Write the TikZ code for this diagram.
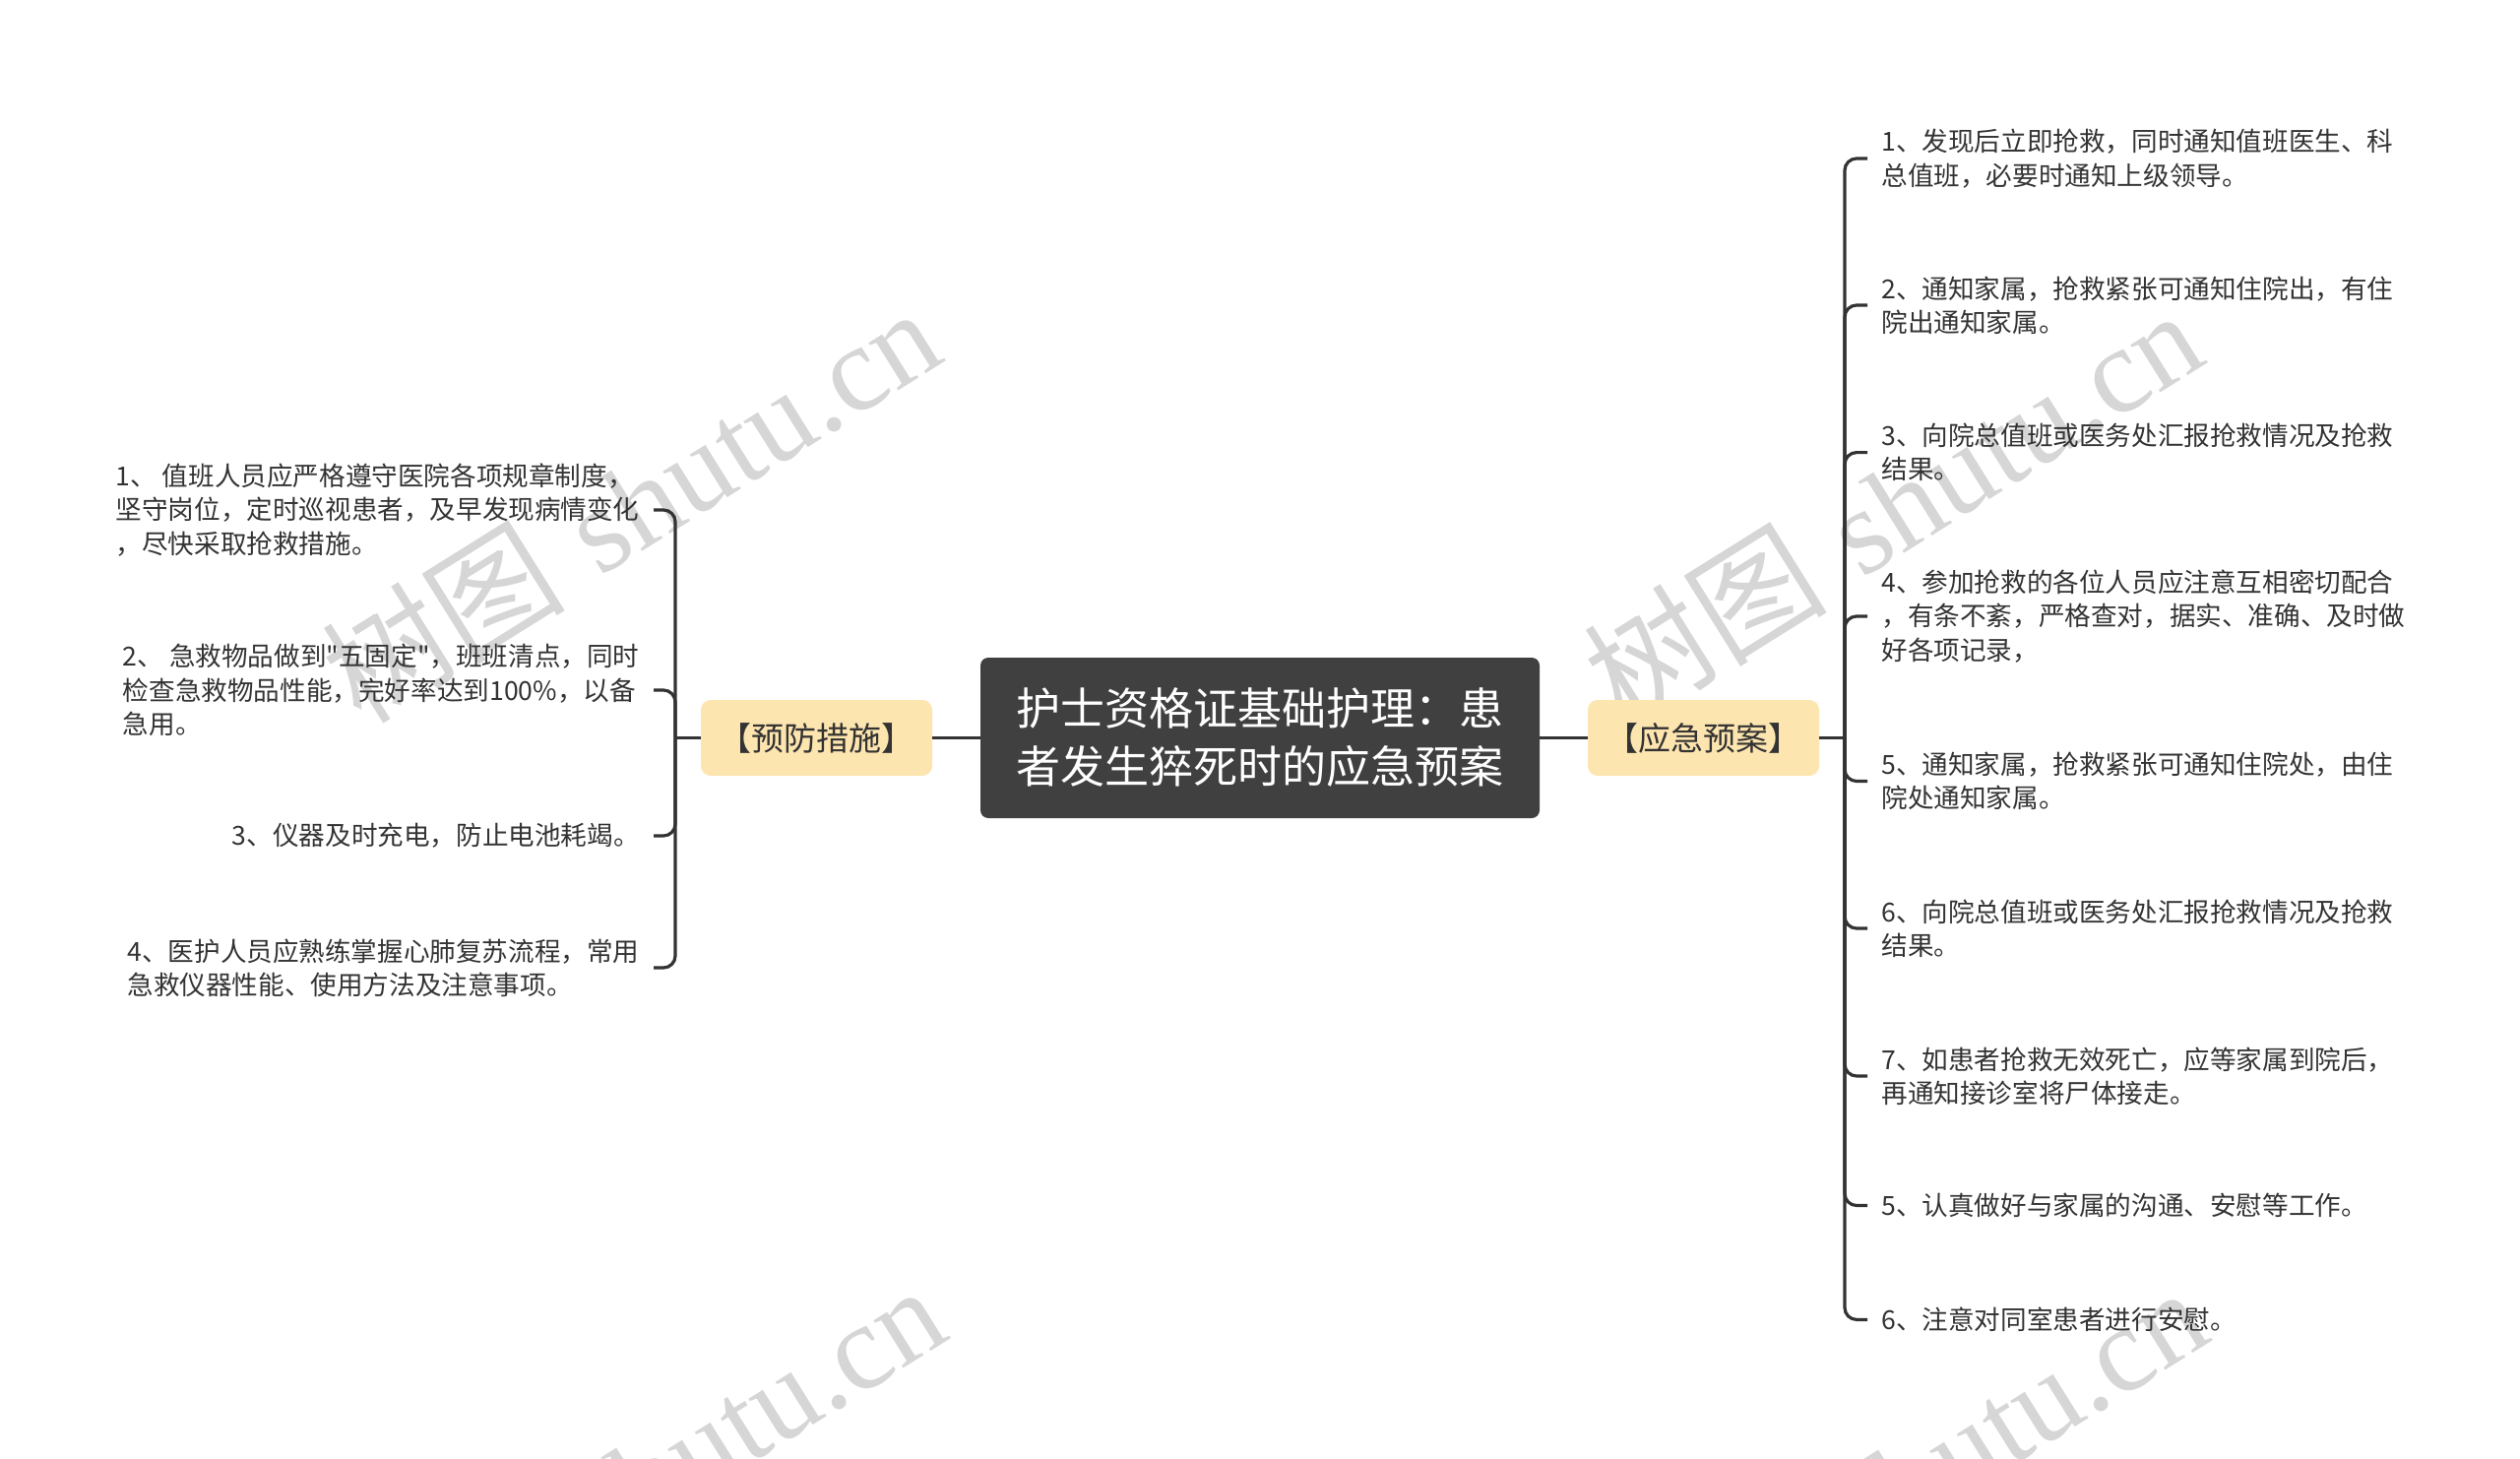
\documentclass[tikz,border=0pt]{standalone}
\usepackage{fontspec}
\setmainfont{Noto Sans CJK SC}[Ligatures=TeXOff]
\newfontfamily\wmlatin{Liberation Serif}
\definecolor{rootgray}{RGB}{64,64,64}
\definecolor{branchfill}{RGB}{253,229,176}
\definecolor{linegray}{RGB}{51,51,51}
\definecolor{textdark}{RGB}{51,51,51}
\definecolor{wmgray}{RGB}{214,214,214}
\begin{document}
\begin{tikzpicture}[x=0.5pt,y=-0.5pt,
  rootbox/.style={fill=rootgray, rounded corners=4pt, minimum width=284pt, minimum height=81.5pt,
    text=white, font=\fontsize{22.5}{29.5}\selectfont, align=center, inner sep=0pt},
  branchbox/.style={fill=branchfill, rounded corners=5pt, minimum width=117.5pt, minimum height=38.5pt,
    text=textdark, font=\fontsize{16.5}{20}\selectfont, inner sep=0pt},
  leafL/.style={anchor=east, align=left, text=textdark, font=\fontsize{13.3}{17.15}\selectfont,
    inner xsep=7pt, inner ysep=0pt},
  leafR/.style={anchor=west, align=left, text=textdark, font=\fontsize{13.3}{17.15}\selectfont,
    inner xsep=7pt, inner ysep=0pt},
  link/.style={draw=linegray, line width=1.6pt, rounded corners=6pt},
  wm/.style={rotate=32, text=wmgray, font=\fontsize{62}{62}\selectfont, inner sep=0pt}]

\useasboundingbox (0,0) rectangle (2560,1482);

% watermarks
\begin{scope}
\clip (0,0) rectangle (2560,1482);
\node[wm] (wm1) at (640,512) {树图\hspace{0.3em}{\wmlatin shutu.cn}};
\node[wm] (wm2) at (1922,514) {树图\hspace{0.3em}{\wmlatin shutu.cn}};
\node[wm] (wm3) at (645,1505) {树图\hspace{0.3em}{\wmlatin shutu.cn}};
\node[wm] (wm4) at (1927,1507) {树图\hspace{0.3em}{\wmlatin shutu.cn}};
\end{scope}

% main nodes
\node[rootbox] (root) at (1280,749.5) {护士资格证基础护理：患\\者发生猝死时的应急预案};
\node[branchbox] (L) at (829.5,749.5) {【预防措施】};
\node[branchbox] (R) at (1730.5,749.5) {【应急预案】};

\coordinate (lt) at (686,749.5);
\coordinate (rt) at (1874,749.5);

% left leaves
\node[leafL] (l1) at (664,518) {1、 值班人员应严格遵守医院各项规章制度，\\坚守岗位，定时巡视患者，及早发现病情变化\\，尽快采取抢救措施。};
\node[leafL] (l2) at (664,701) {2、 急救物品做到"五固定"，班班清点，同时\\检查急救物品性能，完好率达到100\%，以备\\急用。};
\node[leafL] (l3) at (664,849) {3、仪器及时充电，防止电池耗竭。};
\node[leafL] (l4) at (664,983) {4、医护人员应熟练掌握心肺复苏流程，常用\\急救仪器性能、使用方法及注意事项。};

% right leaves
\node[leafR] (r1) at (1897,161) {1、发现后立即抢救，同时通知值班医生、科\\总值班，必要时通知上级领导。};
\node[leafR] (r2) at (1897,310) {2、通知家属，抢救紧张可通知住院出，有住\\院出通知家属。};
\node[leafR] (r3) at (1897,459.6) {3、向院总值班或医务处汇报抢救情况及抢救\\结果。};
\node[leafR] (r4) at (1897,626) {4、参加抢救的各位人员应注意互相密切配合\\，有条不紊，严格查对，据实、准确、及时做\\好各项记录，};
\node[leafR] (r5) at (1897,793.5) {5、通知家属，抢救紧张可通知住院处，由住\\院处通知家属。};
\node[leafR] (r6) at (1897,943) {6、向院总值班或医务处汇报抢救情况及抢救\\结果。};
\node[leafR] (r7) at (1897,1093) {7、如患者抢救无效死亡，应等家属到院后，\\再通知接诊室将尸体接走。};
\node[leafR] (r8) at (1897,1224.5) {5、认真做好与家属的沟通、安慰等工作。};
\node[leafR] (r9) at (1897,1340.4) {6、注意对同室患者进行安慰。};

% connectors
\draw[link] (root.west) -- (L.east);
\draw[link] (root.east) -- (R.west);
\draw[link] (L.west) -- (lt);
\draw[link] (R.east) -- (rt);
\foreach \n in {l1,l2,l3,l4} \draw[link] (lt) |- (\n.east);
\foreach \n in {r1,r2,r3,r4,r5,r6,r7,r8,r9} \draw[link] (rt) |- (\n.west);

\end{tikzpicture}
\end{document}
